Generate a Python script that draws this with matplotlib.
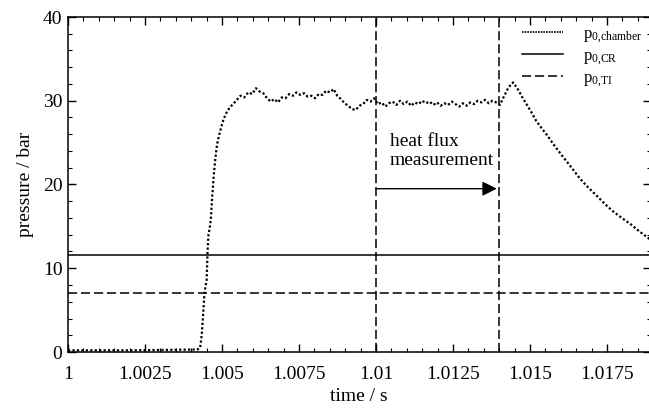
import matplotlib
matplotlib.use("Agg")
import matplotlib.pyplot as plt
from matplotlib.ticker import MultipleLocator, FixedLocator

plt.rcParams['font.family'] = ['Liberation Serif', 'DejaVu Serif']
plt.rcParams['mathtext.fontset'] = 'custom'
plt.rcParams['mathtext.rm'] = 'Liberation Serif'
plt.rcParams['mathtext.it'] = 'Liberation Serif:italic'

# ---- data ----
t_chamber = [1.0000, 1.0020, 1.0042, 1.00429, 1.00434, 1.00438, 1.00442, 1.00446,
             1.00450, 1.00453, 1.00456, 1.00460, 1.00464, 1.00468, 1.00473, 1.00478,
             1.00484, 1.00490, 1.00497, 1.00505, 1.00515, 1.00525, 1.00536, 1.00548,
             1.00560, 1.00572, 1.00585, 1.00598, 1.00610, 1.00622, 1.00634, 1.00646,
             1.00658, 1.00670, 1.00682, 1.00694, 1.00706, 1.00718, 1.00730, 1.00742,
             1.00754, 1.00766, 1.00778, 1.00790, 1.00802, 1.00814, 1.00826, 1.00838,
             1.00850, 1.00862, 1.00874, 1.00886, 1.00898, 1.00910, 1.00922, 1.00934,
             1.00946, 1.00958, 1.00970, 1.00982, 1.00994, 1.01006, 1.01018, 1.01030,
             1.01042, 1.01054, 1.01066, 1.01078, 1.01090, 1.01102, 1.01114, 1.01126,
             1.01138, 1.01150, 1.01162, 1.01174, 1.01186, 1.01198, 1.01210, 1.01222,
             1.01234, 1.01246, 1.01258, 1.01270, 1.01282, 1.01294, 1.01306, 1.01318,
             1.01330, 1.01342, 1.01354, 1.01366, 1.01378, 1.01390, 1.01402, 1.01415,
             1.01430, 1.01445, 1.01460, 1.01475, 1.01490, 1.01500, 1.01520, 1.01540,
             1.01555, 1.01580, 1.01607, 1.01635, 1.01662, 1.01690, 1.01718, 1.01745,
             1.01769, 1.01798, 1.01825, 1.01855, 1.01891]
p_chamber = [0.2, 0.2, 0.3, 0.5, 2.0, 4.0, 6.5, 7.8,
             8.5, 12.0, 14.0, 14.8, 16.0, 18.5, 21.0, 23.0,
             24.8, 25.8, 26.8, 27.8, 28.6, 29.2, 29.6, 30.1,
             30.6, 30.4, 31.0, 30.8, 31.5, 31.1, 30.9, 30.3,
             29.9, 30.2, 29.8, 30.4, 30.3, 30.8, 30.6, 31.0,
             30.7, 30.9, 30.5, 30.6, 30.3, 30.8, 30.7, 31.2,
             31.0, 31.4, 30.6, 30.2, 29.7, 29.4, 29.0, 28.9,
             29.4, 29.6, 30.1, 29.9, 30.3, 29.6, 29.8, 29.3,
             29.7, 29.9, 29.5, 30.0, 29.6, 29.9, 29.4, 29.8,
             29.6, 30.0, 29.7, 29.9, 29.5, 29.8, 29.4, 29.7,
             29.5, 29.9, 29.6, 29.3, 29.7, 29.4, 29.8, 29.6,
             30.0, 29.8, 30.1, 29.7, 30.0, 29.8, 29.5, 30.5,
             31.6, 32.2, 31.4, 30.4, 29.5, 28.9, 27.6, 26.6,
             25.9, 24.6, 23.3, 22.0, 20.7, 19.6, 18.6, 17.6,
             16.8, 16.0, 15.3, 14.4, 13.4]
p_cr = 11.6
p_ti = 7.0
t_measure_start = 1.010
t_measure_end = 1.014

labels = [r'p$_{\mathrm{0{,}chamber}}$', r'p$_{\mathrm{0{,}CR}}$', r'p$_{\mathrm{0{,}TI}}$']
x_ticks = [1.0, 1.0025, 1.005, 1.0075, 1.01, 1.0125, 1.015, 1.0175]
x_ticklabels = ['1', '1.0025', '1.005', '1.0075', '1.01', '1.0125', '1.015', '1.0175']

# ---- figure ----
fig = plt.figure(figsize=(6.49, 4.11), dpi=100)
ax = fig.add_axes([68/649, 59/411, 582.5/649, 335/411])

fs = 14
ax.plot(t_chamber, p_chamber, color='black', linestyle=(0, (1, 1)), lw=1.6, label=labels[0])
ax.axhline(p_cr, color='black', lw=1.1, label=labels[1])
ax.axhline(p_ti, color='black', lw=1.1, linestyle=(0, (6, 2.5)), label=labels[2])
ax.axvline(t_measure_start, color='black', lw=1.1, linestyle=(0, (6, 2.5)))
ax.axvline(t_measure_end, color='black', lw=1.1, linestyle=(0, (6, 2.5)))

ax.annotate('', xy=(t_measure_end - 0.00008, 19.5), xytext=(t_measure_start, 19.5),
            arrowprops=dict(arrowstyle='-|>', color='black', lw=1.0,
                            mutation_scale=22, shrinkA=0, shrinkB=0))
ax.text(1.01045, 24.0, 'heat flux\nmeasurement', fontsize=fs, ha='left', va='center',
        linespacing=1.15)

ax.set_xlim(1.0, 1.01891)
ax.set_ylim(0, 40)
ax.xaxis.set_major_locator(FixedLocator(x_ticks))
ax.set_xticklabels(x_ticklabels)
ax.xaxis.set_minor_locator(MultipleLocator(0.0005))
ax.yaxis.set_major_locator(MultipleLocator(10))
ax.yaxis.set_minor_locator(MultipleLocator(2))
ax.tick_params(which='both', direction='in', top=True, right=True, labelsize=fs)
ax.tick_params(which='major', length=6, width=1.0)
ax.tick_params(which='minor', length=3, width=0.8)
ax.tick_params(axis='x', pad=10)
ax.tick_params(axis='y', pad=4)
for s in ax.spines.values():
    s.set_linewidth(1.1)

ax.set_xlabel('time / s', fontsize=fs, labelpad=4)
ax.set_ylabel('pressure / bar', fontsize=fs, labelpad=6)

leg = ax.legend(loc='upper left', bbox_to_anchor=(0.779, 0.973), frameon=False, fontsize=12,
                handlelength=2.45, handletextpad=1.2, labelspacing=0.2,
                borderaxespad=0, borderpad=0)
leg.get_lines()[0].set_linestyle((0, (1, 0.6)))
leg.get_lines()[0].set_linewidth(1.2)

fig.savefig('out.png', dpi=100)
